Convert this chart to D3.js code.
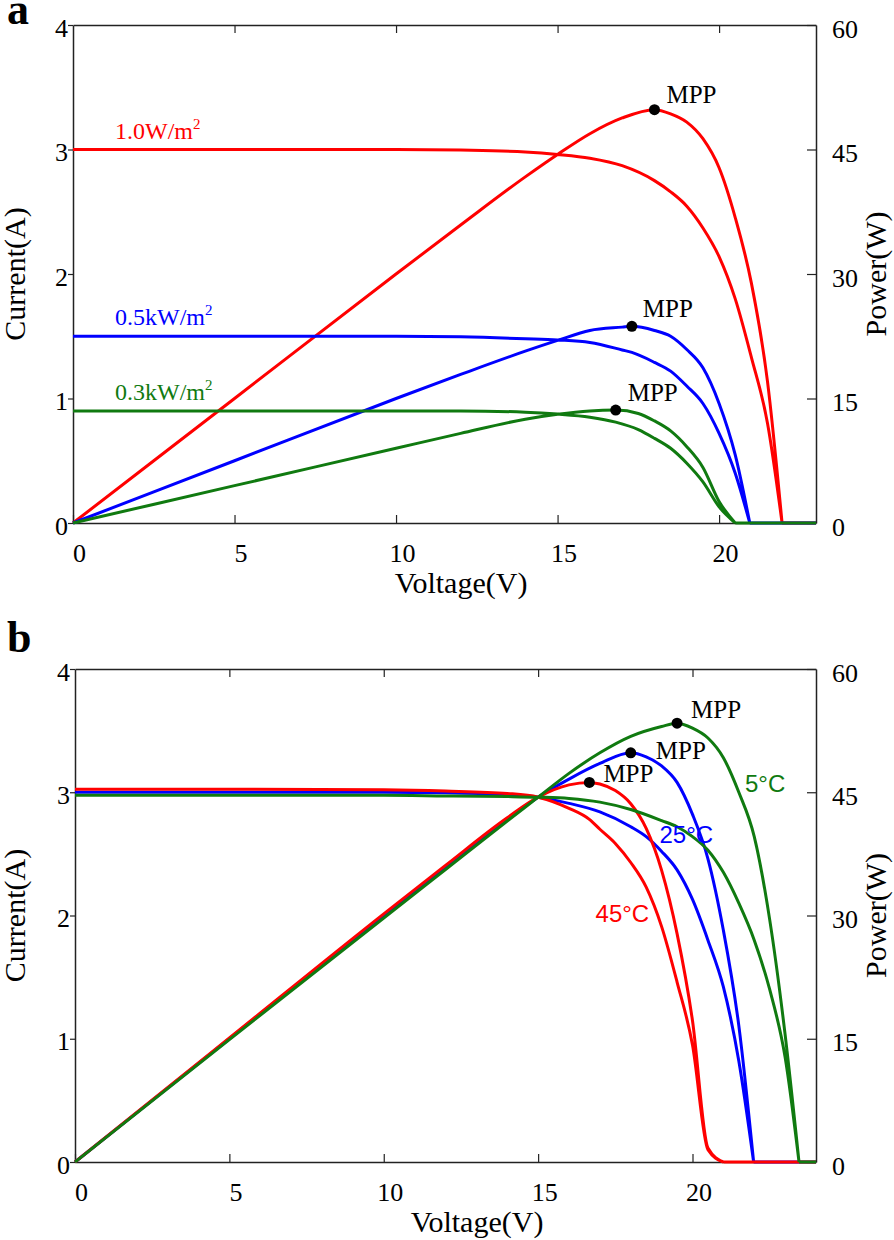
<!DOCTYPE html>
<html>
<head>
<meta charset="utf-8">
<script src="https://cdn.jsdelivr.net/npm/d3@7"></script>
<style>
  body { margin: 0; background: #fff; }
  svg text { font-family: "Liberation Serif", "Times New Roman", serif; }
  svg text.sans { font-family: "Liberation Sans", Arial, sans-serif; }
</style>
</head>
<body>
<svg id="chart" width="894" height="1240"></svg>
<script>
// panel a : irradiance (voltage, current, power)
const vRedA = [0, 5, 10, 12, 14, 15, 16, 17, 18, 18.5, 19, 19.5, 20, 20.5, 21, 21.5, 21.95, 23];
const iRedA = [3.0, 3.0, 3.0, 2.995, 2.98, 2.96, 2.93, 2.87, 2.75, 2.66, 2.545, 2.37, 2.14, 1.8, 1.33, 0.8, 0, 0];
const pRedA = [0, 15, 30, 35.9, 41.7, 44.4, 46.9, 48.8, 49.8, 49.3, 48.3, 46.3, 42.8, 36.8, 28.9, 17.0, 0, 0];

const vBlueA = [0, 5, 10, 12, 14, 15, 16, 17, 17.3, 18, 18.5, 19, 19.5, 20, 20.5, 20.95, 23];
const iBlueA = [1.5, 1.5, 1.5, 1.495, 1.48, 1.47, 1.45, 1.39, 1.37, 1.29, 1.22, 1.1, 0.96, 0.72, 0.4, 0, 0];
const pBlueA = [0, 7.5, 15, 17.9, 20.7, 22.0, 23.2, 23.6, 23.7, 23.2, 22.5, 20.9, 18.7, 14.4, 8.2, 0, 0];

const vGreenA = [0, 5, 10, 12, 14, 15, 16, 16.8, 17.5, 18, 18.5, 19, 19.5, 20, 20.5, 23];
const iGreenA = [0.9, 0.9, 0.9, 0.9, 0.89, 0.875, 0.85, 0.81, 0.75, 0.68, 0.6, 0.48, 0.33, 0.13, 0, 0];
const pGreenA = [0, 4.5, 9, 10.8, 12.5, 13.1, 13.5, 13.6, 13.2, 12.3, 11.1, 9.2, 6.7, 2.6, 0, 0];

const irrLabels = ['1.0W/m', '0.5kW/m', '0.3kW/m'];
const irrLevels = [3.0, 1.5, 0.9];
const mppVoltA = [18.0, 17.3, 16.8];
const mppPowerA = [49.8, 23.7, 13.6];

// panel b : temperature
const vRedB = [0, 5, 10, 12, 14, 15, 16, 16.66, 17, 17.5, 18, 18.5, 19, 19.5, 20, 20.5, 21, 24];
const iRedB = [3.025, 3.025, 3.02, 3.01, 2.99, 2.96, 2.87, 2.78, 2.70, 2.585, 2.43, 2.23, 1.91, 1.46, 0.95, 0.1, 0, 0];
const pRedB = [0, 15.1, 30.2, 36.1, 41.9, 44.4, 45.9, 46.2, 46.0, 45.2, 43.6, 40.6, 35.5, 27.8, 17.2, 1.7, 0, 0];

const vBlueB = [0, 5, 10, 12, 14, 15, 16, 17, 18, 18.5, 19, 19.5, 20, 20.5, 21, 21.5, 21.98, 24];
const iBlueB = [3.0, 3.0, 3.0, 2.995, 2.98, 2.96, 2.91, 2.84, 2.72, 2.64, 2.52, 2.37, 2.13, 1.8, 1.42, 0.82, 0, 0];
const pBlueB = [0, 15, 30, 35.9, 41.7, 44.4, 46.6, 48.5, 49.8, 49.3, 48.2, 46.2, 42.3, 36.9, 28.2, 16.6, 0, 0];

const vGreenB = [0, 5, 10, 12, 14, 15, 16, 17, 18, 19, 19.5, 20, 20.5, 21, 21.5, 22, 22.5, 23, 23.45, 24];
const iGreenB = [2.975, 2.975, 2.975, 2.97, 2.965, 2.96, 2.95, 2.92, 2.86, 2.77, 2.72, 2.64, 2.53, 2.35, 2.1, 1.8, 1.4, 0.85, 0, 0];
const pGreenB = [0, 14.9, 29.7, 35.6, 41.5, 44.4, 47.3, 49.8, 51.8, 53.0, 53.4, 52.8, 51.6, 49.2, 45.0, 39.6, 29.5, 15.5, 0, 0];

const tempLabels = ['5°C', '25°C', '45°C'];
const mppVoltB = [19.5, 18.0, 16.66];
const mppPowerB = [53.4, 49.8, 46.2];

const xTicks = [0, 5, 10, 15, 20];
const iTicks = [0, 1, 2, 3, 4];
const pTicks = [0, 15, 30, 45, 60];

const RED = '#ff0000', BLUE = '#0000ff', GREEN = '#107a10';

const svg = d3.select('#chart');

// smooth part up to the first zero after the start, straight flat tail after it
function splitAtZero(pts) {
  let k = pts.findIndex((d, j) => j > 0 && d[1] === 0);
  if (k < 0) k = pts.length - 1;
  return [pts.slice(0, k + 1), pts.slice(k)];
}

function drawPanel(cfg) {
  const g = svg.append('g');
  const x = d3.scaleLinear().domain([0, cfg.xMax]).range([cfg.left, cfg.right]);
  const yI = d3.scaleLinear().domain([0, 4]).range([cfg.bottom, cfg.top]);
  const yP = d3.scaleLinear().domain([0, 60]).range([cfg.bottom, cfg.top]);

  // axes
  const bottomAxis = g.append('g').attr('transform', 'translate(0,' + cfg.bottom + ')')
    .call(d3.axisBottom(x).tickValues(xTicks).tickSize(-8).tickSizeOuter(0));
  bottomAxis.selectAll('text').attr('dy', 0).attr('y', 39).attr('dx', 6);

  g.append('g').attr('transform', 'translate(0,' + cfg.top + ')')
    .call(d3.axisTop(x).tickValues(xTicks.slice(1)).tickSize(-8).tickSizeOuter(0).tickFormat(''));

  const leftAxis = g.append('g').attr('transform', 'translate(' + cfg.left + ',0)')
    .call(d3.axisLeft(yI).tickValues(iTicks).tickFormat(d3.format('d'))
      .tickSize(5).tickSizeOuter(0).tickPadding(0));
  leftAxis.selectAll('text').attr('dy', 0).attr('y', 11);

  const rightAxis = g.append('g').attr('transform', 'translate(' + cfg.right + ',0)')
    .call(d3.axisRight(yP).tickValues(pTicks).tickSize(-9).tickSizeOuter(0).tickPadding(16));
  rightAxis.selectAll('text').attr('dy', 0).attr('y', 12);

  g.selectAll('.domain').attr('stroke', '#222').attr('stroke-width', 1.5);
  g.selectAll('.tick line').attr('stroke', '#222').attr('stroke-width', 1.2);
  g.selectAll('.tick text').attr('font-size', 26).attr('fill', '#000');

  // axis titles
  g.append('text').attr('x', cfg.xTitleX).attr('y', cfg.bottom + 70)
    .attr('text-anchor', 'middle').attr('font-size', 30).text('Voltage(V)');
  g.append('text').attr('transform', 'translate(25,' + (cfg.top + cfg.bottom) / 2 + ') rotate(-90)')
    .attr('text-anchor', 'middle').attr('font-size', 30).text('Current(A)');
  g.append('text').attr('transform', 'translate(886,' + (cfg.top + cfg.bottom) / 2 + ') rotate(-90)')
    .attr('text-anchor', 'middle').attr('font-size', 30).text('Power(W)');

  // panel letter
  g.append('text').attr('x', 7).attr('y', cfg.letterY)
    .attr('font-size', 44).attr('font-weight', 'bold').text(cfg.letter);

  // curves
  const smoothI = d3.line().x(d => x(d[0])).y(d => yI(d[1])).curve(d3.curveMonotoneX);
  const smoothP = d3.line().x(d => x(d[0])).y(d => yP(d[1])).curve(d3.curveMonotoneX);
  const flatI = d3.line().x(d => x(d[0])).y(d => yI(d[1]));
  const flatP = d3.line().x(d => x(d[0])).y(d => yP(d[1]));
  cfg.series.forEach(s => {
    const [iHead, iTail] = splitAtZero(s.v.map((v, k) => [v, s.i[k]]));
    const [pHead, pTail] = splitAtZero(s.v.map((v, k) => [v, s.p[k]]));
    const d = smoothI(iHead) + flatI(iTail) + smoothP(pHead) + flatP(pTail);
    g.append('path').attr('d', d).attr('fill', 'none')
      .attr('stroke', s.color).attr('stroke-width', 3).attr('stroke-linejoin', 'round');
  });

  // MPP markers
  cfg.mpp.forEach(m => {
    g.append('circle').attr('cx', x(m.v)).attr('cy', yP(m.p)).attr('r', 5.5).attr('fill', '#000');
    g.append('text').attr('x', x(m.v) + m.dx).attr('y', yP(m.p) + m.dy)
      .attr('font-size', 25).text('MPP');
  });

  return { x, yI, yP, g };
}

// panel a
const pa = drawPanel({
  letter: 'a', letterY: 24, left: 73, right: 816, top: 25, bottom: 523, xMax: 23, xTitleX: 461,
  series: [
    { v: vRedA, i: iRedA, p: pRedA, color: RED },
    { v: vBlueA, i: iBlueA, p: pBlueA, color: BLUE },
    { v: vGreenA, i: iGreenA, p: pGreenA, color: GREEN }
  ],
  mpp: [
    { v: mppVoltA[0], p: mppPowerA[0], dx: 12, dy: -7 },
    { v: mppVoltA[1], p: mppPowerA[1], dx: 11, dy: -9 },
    { v: mppVoltA[2], p: mppPowerA[2], dx: 12, dy: -9 }
  ]
});

const irrColors = [RED, BLUE, GREEN];
irrLabels.forEach((lab, k) => {
  const t = pa.g.append('text').attr('x', pa.x(1.3)).attr('y', pa.yI(irrLevels[k]) - 11)
    .attr('font-size', 24).attr('fill', irrColors[k]);
  t.append('tspan').text(lab);
  t.append('tspan').attr('font-size', 15).attr('dy', -10).text('2');
});

// panel b
const pb = drawPanel({
  letter: 'b', letterY: 652, left: 75, right: 816, top: 669, bottom: 1162, xMax: 24, xTitleX: 477,
  series: [
    { v: vBlueB, i: iBlueB, p: pBlueB, color: BLUE },
    { v: vRedB, i: iRedB, p: pRedB, color: RED },
    { v: vGreenB, i: iGreenB, p: pGreenB, color: GREEN }
  ],
  mpp: [
    { v: mppVoltB[0], p: mppPowerB[0], dx: 14, dy: -5 },
    { v: mppVoltB[1], p: mppPowerB[1], dx: 25, dy: 6 },
    { v: mppVoltB[2], p: mppPowerB[2], dx: 14, dy: 0 }
  ]
});

const tempColors = [GREEN, BLUE, RED];
const tempPos = [[21.7, 45.0], [18.93, 38.8], [16.86, 29.2]];
tempLabels.forEach((lab, k) => {
  pb.g.append('text').attr('class', 'sans')
    .attr('x', pb.x(tempPos[k][0])).attr('y', pb.yP(tempPos[k][1]))
    .attr('font-size', 24).attr('fill', tempColors[k]).text(lab);
});
</script>
</body>
</html>
